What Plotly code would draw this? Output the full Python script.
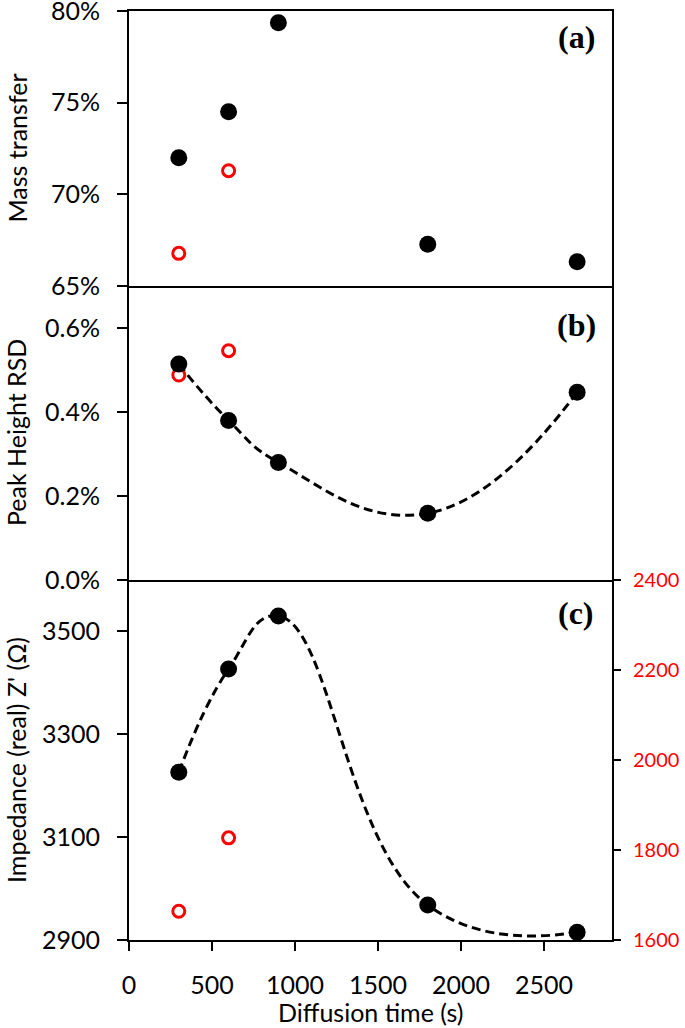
import plotly.graph_objects as go

# ---- data ----
time = [300, 600, 900, 1800, 2700]
time_red = [300, 600]

mass_transfer = [0.720, 0.745, 0.7936, 0.6728, 0.6632]
mass_transfer_red = [0.6678, 0.7129]

rsd = [0.00514, 0.00380, 0.00280, 0.00159, 0.00447]
rsd_red = [0.00488, 0.00546]

impedance = [3226, 3427, 3530, 2968, 2915]
impedance_red = [1664, 1827]

x_ticks = [0, 500, 1000, 1500, 2000, 2500]
mass_ticks = [0.65, 0.70, 0.75, 0.80]
rsd_ticks = [0, 0.002, 0.004, 0.006]
imp_ticks = [2900, 3100, 3300, 3500]
imp_red_ticks = [1600, 1800, 2000, 2200, 2400]

# ---- layout geometry ----
W, H = 685, 1028
L, R, T, B = 129, 612, 11, 940
def ydom(top_px, bot_px):
    return [(B - bot_px) / (B - T), (B - top_px) / (B - T)]
def px_x(px):
    return (px - L) / (R - L)
def px_y(py):
    return (B - py) / (B - T)

dom_a = ydom(T, 286)
dom_b = ydom(286, 580)
dom_c = ydom(580, B)

FONT = "Lato, Open Sans, sans-serif"
TICKFONT = dict(family=FONT, size=25, color="black")
CLEAR = "rgba(0,0,0,0)"

fig = go.Figure()

black_marker = dict(color="black", size=17)
red_marker = dict(symbol="circle-open", color="#FF0000", size=12, line=dict(color="#FF0000", width=3))
dash_line = dict(color="black", width=3, dash="9px,5px", shape="spline", smoothing=1.3)

# panel (a)  (black markers drawn on the label axis y5, which overlays y3 with the same range)
fig.add_trace(go.Scatter(x=time_red, y=mass_transfer_red, mode="markers", marker=red_marker,
                         xaxis="x3", yaxis="y3", showlegend=False))
fig.add_trace(go.Scatter(x=time, y=mass_transfer, mode="markers", marker=black_marker,
                         xaxis="x3", yaxis="y5", showlegend=False))
# panel (b)
fig.add_trace(go.Scatter(x=time, y=rsd, mode="lines", line=dash_line,
                         xaxis="x2", yaxis="y2", showlegend=False))
fig.add_trace(go.Scatter(x=time_red, y=rsd_red, mode="markers", marker=red_marker,
                         xaxis="x2", yaxis="y2", showlegend=False))
fig.add_trace(go.Scatter(x=time, y=rsd, mode="markers", marker=black_marker,
                         xaxis="x2", yaxis="y6", showlegend=False))
# panel (c)
fig.add_trace(go.Scatter(x=time, y=impedance, mode="lines", line=dash_line,
                         xaxis="x", yaxis="y", showlegend=False))
fig.add_trace(go.Scatter(x=time_red, y=impedance_red, mode="markers", marker=red_marker,
                         xaxis="x", yaxis="y4", showlegend=False))
fig.add_trace(go.Scatter(x=time, y=impedance, mode="markers", marker=black_marker,
                         xaxis="x4", yaxis="y7", showlegend=False))

XRANGE = [0, 2910]
MASS_RANGE = [0.65, 0.80]
RSD_RANGE = [0, 0.007]
IMP_RANGE = [2900, 3600]
IMP_RED_RANGE = [1600, 2400]

base = dict(showgrid=False, zeroline=False, automargin=False)
lined = dict(**base, showline=True, linecolor="black", linewidth=2)
black_ticks = dict(ticks="outside", tickwidth=2, tickcolor="black", showticklabels=False)
# label-only axes: transparent ticks set the label distance from the axis line
label_only = dict(**base, showline=False, ticks="outside", tickcolor=CLEAR, tickwidth=1,
                  ticklabeloverflow="allow")

fig.update_layout(
    template="none",
    width=W, height=H,
    margin=dict(l=L, r=W - R, t=T, b=H - B, pad=0),
    paper_bgcolor="white", plot_bgcolor="white",
    # visible axes (lines + black ticks)
    xaxis=dict(**lined, **black_ticks, anchor="y", range=XRANGE, tickvals=x_ticks, ticklen=9),
    xaxis2=dict(**lined, anchor="y2", matches="x", range=XRANGE, showticklabels=False, ticks=""),
    xaxis3=dict(**lined, anchor="y3", matches="x", range=XRANGE, showticklabels=False, ticks="",
                mirror=True),
    yaxis=dict(**lined, **black_ticks, domain=dom_c, anchor="x", range=IMP_RANGE, tickvals=imp_ticks,
               ticklen=10),
    yaxis2=dict(**lined, **black_ticks, domain=dom_b, anchor="x2", range=RSD_RANGE, tickvals=rsd_ticks,
                ticklen=10, mirror=True),
    yaxis3=dict(**lined, **black_ticks, domain=dom_a, anchor="x3", range=MASS_RANGE, tickvals=mass_ticks,
                ticklen=10, mirror=True),
    yaxis4=dict(**lined, overlaying="y", side="right", anchor="x", range=IMP_RED_RANGE,
                tickvals=imp_red_ticks, ticks="outside", ticklen=7, tickwidth=2, tickcolor="black",
                tickfont=dict(family=FONT, size=20, color="#FF0000"), ticklabelstandoff=8,
                ticklabeloverflow="allow"),
    # tick-label axes
    xaxis4=dict(**label_only, overlaying="x", anchor="y", side="bottom", range=XRANGE, tickvals=x_ticks,
                ticklen=23, tickfont=TICKFONT),
    yaxis5=dict(**label_only, overlaying="y3", anchor="x3", side="left", range=MASS_RANGE,
                tickvals=mass_ticks, tickformat=".0%", ticklen=23, tickfont=TICKFONT),
    yaxis6=dict(**label_only, overlaying="y2", anchor="x2", side="left", range=RSD_RANGE,
                tickvals=rsd_ticks, tickformat=".1%", ticklen=23, tickfont=TICKFONT),
    yaxis7=dict(**label_only, overlaying="y", anchor="x", side="left", range=IMP_RANGE,
                tickvals=imp_ticks, ticklen=23, tickfont=TICKFONT),
)

annotations = [
    dict(text="Mass transfer", x=px_x(16), y=(dom_a[0] + dom_a[1]) / 2, textangle=-90),
    dict(text="Peak Height RSD", x=px_x(16), y=(dom_b[0] + dom_b[1]) / 2, textangle=-90),
    dict(text="Impedance (real) Z' (Ω)", x=px_x(16), y=(dom_c[0] + dom_c[1]) / 2, textangle=-90),
    dict(text="Diffusion time (s)", x=0.5, y=px_y(1012)),
]
for a in annotations:
    fig.add_annotation(xref="paper", yref="paper", showarrow=False, xanchor="center", yanchor="middle",
                       font=dict(family=FONT, size=25, color="black"), **a)

for lbl, cy in [("(a)", 37), ("(b)", 325), ("(c)", 613)]:
    fig.add_annotation(text="<b>" + lbl + "</b>", xref="paper", yref="paper", x=px_x(576), y=px_y(cy),
                       showarrow=False, xanchor="center", yanchor="middle",
                       font=dict(family="Liberation Serif, Times New Roman, serif", size=32, color="black"))

fig.write_html("out.html", config={"displayModeBar": False},
               post_script="document.body.style.margin='0';document.body.style.padding='0';")
